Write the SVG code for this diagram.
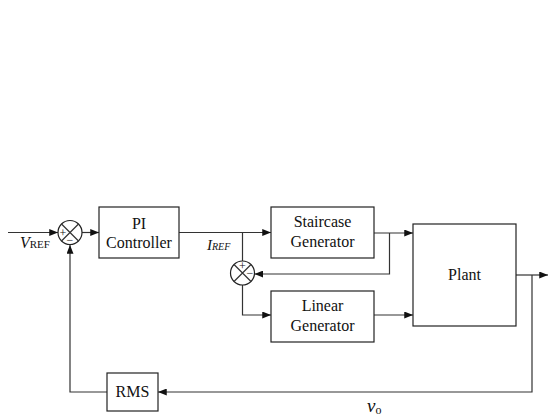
<svg xmlns="http://www.w3.org/2000/svg" width="550" height="419" viewBox="0 0 550 419">
<style>
.box{fill:#fff;stroke:#222;stroke-width:1.2}
.ln{fill:none;stroke:#333;stroke-width:1.2}
.t,.s,.lab{font-family:"Liberation Serif","Times New Roman",Times,"DejaVu Serif","Noto Serif",serif;fill:#111}
.t{font-size:16px;text-anchor:middle}
.s{font-size:12px;text-anchor:middle}
</style>
<defs>
<marker id="ar" viewBox="0 0 10 8" refX="10" refY="4" markerWidth="9" markerHeight="7" markerUnits="userSpaceOnUse" orient="auto">
<path d="M0,0 L10,4 L0,8 Z" fill="#111"/>
</marker>
</defs>
<rect width="550" height="419" fill="#fff"/>
<g id="connectors">
<path class="ln" d="M8,232.5 H58" marker-end="url(#ar)"/>
<path class="ln" d="M82,232.5 H99" marker-end="url(#ar)"/>
<path class="ln" d="M179,232.5 H271" marker-end="url(#ar)"/>
<path class="ln" d="M242.5,232.5 V261"/>
<path class="ln" d="M242.5,285 V315 H271" marker-end="url(#ar)"/>
<path class="ln" d="M374,233 H413" marker-end="url(#ar)"/>
<path class="ln" d="M389.5,233 V274 H254.5" marker-end="url(#ar)"/>
<path class="ln" d="M374,315 H413" marker-end="url(#ar)"/>
<path class="ln" d="M516,275 H548" marker-end="url(#ar)"/>
<path class="ln" d="M532,275 V392 H158" marker-end="url(#ar)"/>
<path class="ln" d="M107,392 H70 V245" marker-end="url(#ar)"/>
</g>
<g id="sum1">
<circle cx="70" cy="232.5" r="12" class="box"/>
<path class="ln" d="M61.5,224 L78.5,241 M78.5,224 L61.5,241"/>
<text x="63" y="237" class="s">+</text>
<text x="70" y="244" class="s">−</text>
</g>
<g id="pi">
<rect x="99" y="207" width="80" height="51" class="box"/>
<text x="139" y="229" class="t">PI</text>
<text x="139" y="248" class="t">Controller</text>
</g>
<g id="sum2">
<circle cx="242.5" cy="273" r="12" class="box"/>
<path class="ln" d="M234,264.5 L251,281.5 M251,264.5 L234,281.5"/>
<text x="242.5" y="270" class="s">+</text>
<text x="250" y="277" class="s">−</text>
</g>
<g id="staircase">
<rect x="271" y="207" width="103" height="51" class="box"/>
<text x="322.5" y="227" class="t">Staircase</text>
<text x="322.5" y="247" class="t">Generator</text>
</g>
<g id="linear">
<rect x="271" y="291" width="103" height="51" class="box"/>
<text x="322.5" y="311" class="t">Linear</text>
<text x="322.5" y="331" class="t">Generator</text>
</g>
<g id="plant">
<rect x="413" y="224" width="103" height="102" class="box"/>
<text x="464.5" y="280" class="t">Plant</text>
</g>
<g id="rms">
<rect x="107" y="373" width="51" height="38" class="box"/>
<text x="132.5" y="397" class="t">RMS</text>
</g>
<g id="labels">
<text x="20" y="248" class="lab" font-size="16" font-style="italic">V<tspan font-size="11" font-style="normal">REF</tspan></text>
<text x="207" y="250" class="lab" font-size="15" font-style="italic">I<tspan font-size="10">REF</tspan></text>
<text x="367" y="412" class="lab" font-size="19" font-style="italic">v<tspan font-size="12" font-style="normal" dy="2">o</tspan></text>
</g>
</svg>
